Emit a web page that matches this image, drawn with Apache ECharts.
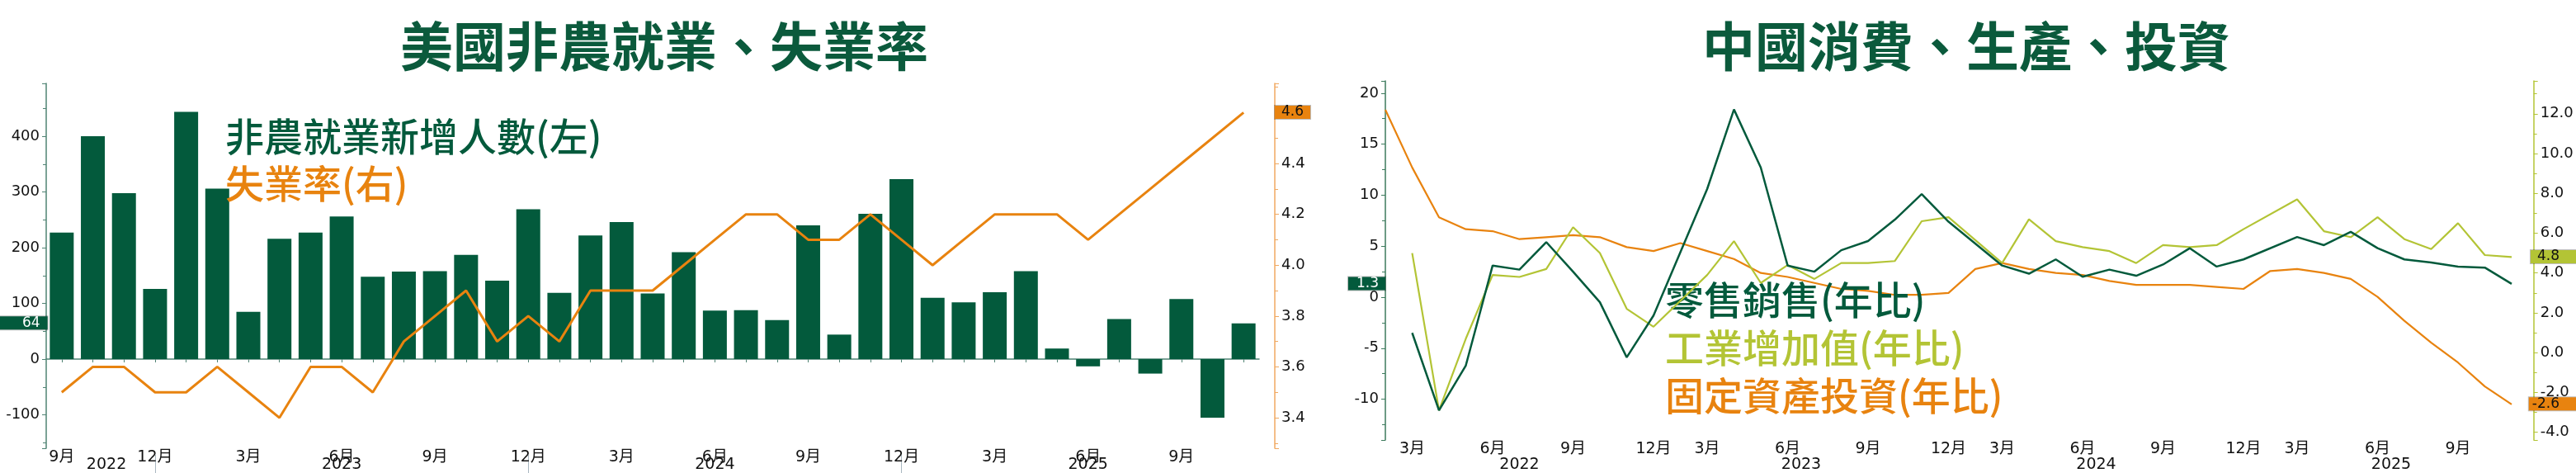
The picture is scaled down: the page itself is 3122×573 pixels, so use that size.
<!DOCTYPE html>
<html><head><meta charset="utf-8">
<script src="https://cdn.jsdelivr.net/npm/echarts@6/dist/echarts.min.js"></script>
<style>html,body{margin:0;padding:0;background:#fff;}#c{width:3122px;height:573px;}</style>
</head><body><div id="c"></div>
<script>
// ---------- DATA ----------
const nfpMonths = ['2022-09','2022-10','2022-11','2022-12',
 '2023-01','2023-02','2023-03','2023-04','2023-05','2023-06','2023-07','2023-08','2023-09','2023-10','2023-11','2023-12',
 '2024-01','2024-02','2024-03','2024-04','2024-05','2024-06','2024-07','2024-08','2024-09','2024-10','2024-11','2024-12',
 '2025-01','2025-02','2025-03','2025-04','2025-05','2025-06','2025-07','2025-08','2025-09','2025-10','2025-11'];
const payrolls = [227,400,298,126, 444,306,85,216,227,256,148,157,158,187,141,269,
 119,222,246,118,192,87,88,70,240,44,261,323, 110,102,120,158,19,-13,72,-26,108,-105,64];
const unemployment = [3.5,3.6,3.6,3.5, 3.5,3.6,3.5,3.4,3.6,3.6,3.5,3.7,3.8,3.9,3.7,3.8,
 3.7,3.9,3.9,3.9,4.0,4.1,4.2,4.2,4.1,4.1,4.2,4.1, 4.0,4.1,4.2,4.2,4.2,4.1,4.2,4.3,4.4,null,4.6];

const cnMonths = ['2022-02','2022-03','2022-04','2022-05','2022-06','2022-07','2022-08','2022-09','2022-10','2022-11','2022-12',
 '2023-02','2023-03','2023-04','2023-05','2023-06','2023-07','2023-08','2023-09','2023-10','2023-11','2023-12',
 '2024-02','2024-03','2024-04','2024-05','2024-06','2024-07','2024-08','2024-09','2024-10','2024-11','2024-12',
 '2025-02','2025-03','2025-04','2025-05','2025-06','2025-07','2025-08','2025-09','2025-10','2025-11'];
const retailSales = [null,-3.5,-11.1,-6.7,3.1,2.7,5.4,2.5,-0.5,-5.9,-1.8,
 null,10.6,18.4,12.7,3.1,2.5,4.6,5.5,7.6,10.1,7.4,
 null,3.1,2.3,3.7,2.0,2.7,2.1,3.2,4.8,3.0,3.7,
 null,5.9,5.1,6.4,4.8,3.7,3.4,3.0,2.9,1.3];
const industrialOutput = [null,5.0,-2.9,0.7,3.9,3.8,4.2,6.3,5.0,2.2,1.3,
 null,3.9,5.6,3.5,4.4,3.7,4.5,4.5,4.6,6.6,6.8,
 null,4.5,6.7,5.6,5.3,5.1,4.5,5.4,5.3,5.4,6.2,
 null,7.7,6.1,5.8,6.8,5.7,5.2,6.5,4.9,4.8];
const fixedAssetInv = [12.2,9.3,6.8,6.2,6.1,5.7,5.8,5.9,5.8,5.3,5.1,
 5.5,5.1,4.7,4.0,3.8,3.5,3.2,3.1,2.9,2.9,3.0,
 4.2,4.5,4.2,4.0,3.9,3.6,3.4,3.4,3.4,3.3,3.2,
 4.1,4.2,4.0,3.7,2.8,1.6,0.5,-0.5,-1.7,-2.6];

const monthTickLabels = {3:'3月', 6:'6月', 9:'9月', 12:'12月'};
const nfpYearTicks = {'2022-10':['2022',true], '2023-06':['2023',false], '2024-06':['2024',false], '2025-06':['2025',false]};
const cnYearTicks  = {'2022-07':['2022',false], '2023-06':['2023',true], '2024-06':['2024',true], '2025-06':['2025',true]};

// ---------- STYLE ----------
const GREEN='#035a3c', ORANGE='#e8830f', LIME='#b3c435', TITLE='#0b5a3c';
const FONT='DejaVu Sans, "Noto Sans CJK TC", sans-serif';
const CJK='"Noto Sans CJK TC", sans-serif';
const monthOf = s => +s.slice(5);

function monthAxis(grid, data, gap, lineShow){
  return {type:'category', gridIndex:grid, data:data, boundaryGap:gap,
    axisLine:{show:lineShow, lineStyle:{color:'#4f8373', width:1.5}},
    axisTick:{show:lineShow, alignWithLabel:true, interval:0, length:4, lineStyle:{color:'#4f8373'}},
    axisLabel:{interval:(i,v)=>monthOf(v)%3===0, formatter:v=>monthTickLabels[monthOf(v)]||'',
      margin:2, fontSize:19, color:'#111', fontFamily:FONT},
    splitLine:{show:false}};
}
function yearAxis(grid, data, gap, map, offset, sep){
  return {type:'category', gridIndex:grid, data:data, boundaryGap:gap, position:'bottom', offset:offset,
    axisLine:{show:false},
    axisTick:{show:sep, alignWithLabel:true, interval:(i,v)=>monthOf(v)===12, length:24, lineStyle:{color:'#a9b7c0'}},
    axisLabel:{interval:(i,v)=>!!map[v], margin:3, fontSize:19, color:'#111', fontFamily:FONT,
      formatter:v=>map[v] ? (map[v][1] ? '{s|'+map[v][0]+'}' : map[v][0]) : '',
      rich:{s:{padding:[0,0,0,33], fontSize:19, color:'#111', fontFamily:FONT}}},
    splitLine:{show:false}};
}
function valAxis(grid, pos, min, max, split, color, offset, fmt, ptr){
  const ax = {type:'value', gridIndex:grid, position:pos, offset:offset, min:min, max:max, splitNumber:split,
    axisLine:{show:true, lineStyle:{color:color, width:1.5}},
    axisTick:{show:true, length:5, lineStyle:{color:color}},
    minorTick:{show:true, splitNumber:2, length:4, lineStyle:{color:color}},
    splitLine:{show:false}, minorSplitLine:{show:false},
    axisLabel:{showMinLabel:false, showMaxLabel:false, margin:8, fontSize:18, color:'#111', fontFamily:FONT, formatter:fmt}};
  if (ptr) ax.axisPointer = ptr;
  return ax;
}
function pointer(value, bg, fg, fmt, pad){
  return {show:true, status:'show', value:value, triggerTooltip:false, type:'line',
    lineStyle:{opacity:0, width:0},
    label:{show:true, formatter:p=>fmt(p.value), backgroundColor:bg, color:fg, padding:pad,
      fontSize:17, lineHeight:16, fontFamily:FONT, borderRadius:0, margin:0, shadowBlur:0,
      borderColor:'rgba(0,0,0,0.25)', borderWidth:1}};
}
const f1 = v => (+v).toFixed(1);
const f0 = v => String(Math.round(+v));

const option = {
  backgroundColor:'#fff',
  animation:false,
  title:[
    {text:'美國非農就業、失業率', left:805, top:24, textAlign:'center', padding:0,
     textStyle:{fontFamily:CJK, fontSize:64, fontWeight:'bold', color:TITLE}},
    {text:'中國消費、生產、投資', left:2383, top:24, textAlign:'center', padding:0,
     textStyle:{fontFamily:CJK, fontSize:64, fontWeight:'bold', color:TITLE}}
  ],
  legend:[
    {orient:'vertical', left:268, top:142, icon:'none', itemWidth:0, itemHeight:10, itemGap:10, selectedMode:false, padding:0,
     textStyle:{fontSize:47, lineHeight:47, fontFamily:CJK, fontWeight:500},
     data:[{name:'非農就業新增人數(左)', textStyle:{color:GREEN, fontWeight:500}}, {name:'失業率(右)', textStyle:{color:ORANGE, fontWeight:500}}]},
    {orient:'vertical', left:2013, top:340, icon:'none', itemWidth:0, itemHeight:10, itemGap:11, selectedMode:false, padding:0,
     textStyle:{fontSize:47, lineHeight:47, fontFamily:CJK, fontWeight:500},
     data:[{name:'零售銷售(年比)', textStyle:{color:GREEN, fontWeight:500}}, {name:'工業增加值(年比)', textStyle:{color:LIME, fontWeight:500}},
           {name:'固定資產投資(年比)', textStyle:{color:ORANGE, fontWeight:500}}]}
  ],
  grid:[
    {left:56, right:1596, top:101, bottom:28},
    {left:1679, right:78, top:98, bottom:36}
  ],
  xAxis:[
    monthAxis(0, nfpMonths, true, true),
    yearAxis(0, nfpMonths, true, nfpYearTicks, 8, true),
    monthAxis(1, cnMonths, false, false),
    yearAxis(1, cnMonths, false, cnYearTicks, 18, false)
  ],
  yAxis:[
    valAxis(0,'left',-160,495,6,'#4f8373',0,f0, pointer(64, GREEN, '#fff', f0, [0,9,0,27])),
    valAxis(0,'right',3.28,4.715,7,'#f0a860',19,f1, pointer(4.6, ORANGE, '#111', f1, [0,8,0,8])),
    valAxis(1,'left',-14,21.2,7,'#3c7a5c',0,f0, pointer(1.3, GREEN, '#fff', f1, [0,8,0,10])),
    valAxis(1,'right',-4.39,13.65,9,'#b3c435',26.7,f1, pointer(4.8, LIME, '#111', f1, [0,20,0,8])),
    Object.assign(valAxis(1,'right',-4.39,13.65,9,'#b3c435',26.7,f1, pointer(-2.6, ORANGE, '#111', f1, [0,20,0,4])),
      {axisLine:{show:false}, axisTick:{show:false}, minorTick:{show:false}, axisLabel:{show:false}})
  ],
  series:[
    {name:'非農就業新增人數(左)', type:'bar', xAxisIndex:0, yAxisIndex:0, data:payrolls, barWidth:29,
     itemStyle:{color:GREEN}},
    {name:'失業率(右)', type:'line', xAxisIndex:0, yAxisIndex:1, data:unemployment, connectNulls:true,
     symbol:'none', showSymbol:false, lineStyle:{color:ORANGE, width:3}, itemStyle:{color:ORANGE}, z:5},
    {name:'零售銷售(年比)', type:'line', xAxisIndex:2, yAxisIndex:2, data:retailSales, connectNulls:true,
     symbol:'none', showSymbol:false, lineStyle:{color:GREEN, width:2.5}, itemStyle:{color:GREEN}, z:5},
    {name:'工業增加值(年比)', type:'line', xAxisIndex:2, yAxisIndex:3, data:industrialOutput, connectNulls:true,
     symbol:'none', showSymbol:false, lineStyle:{color:LIME, width:2.2}, itemStyle:{color:LIME}, z:4},
    {name:'固定資產投資(年比)', type:'line', xAxisIndex:2, yAxisIndex:3, data:fixedAssetInv, connectNulls:true,
     symbol:'none', showSymbol:false, lineStyle:{color:ORANGE, width:2.2}, itemStyle:{color:ORANGE}, z:3}
  ]
};
const chart = echarts.init(document.getElementById('c'));
chart.setOption(option);
</script></body></html>
